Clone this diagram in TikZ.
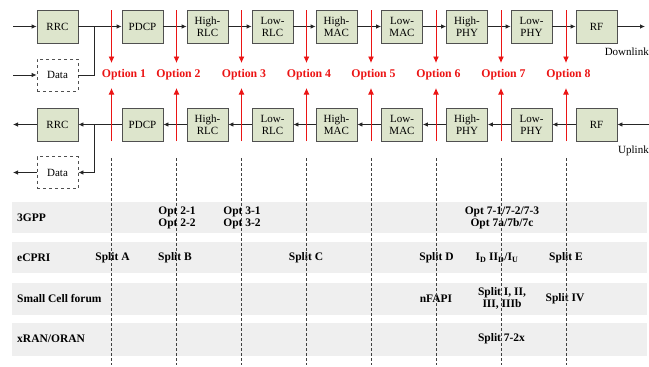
\documentclass[tikz,border=0pt]{standalone}
\usepackage{fontspec}
\setmainfont{Liberation Serif}
\usetikzlibrary{arrows.meta}
\definecolor{boxfill}{RGB}{221,229,204}
\definecolor{boxline}{RGB}{80,80,80}
\definecolor{band}{RGB}{239,239,239}
\definecolor{optred}{RGB}{235,20,20}
\tikzset{
  blk/.style={draw=boxline,fill=boxfill,line width=0.8pt,minimum width=41pt,minimum height=33pt,inner sep=0pt,align=center,font=\fontsize{11}{12}\selectfont},
  databox/.style={draw=boxline,dashed,line width=0.8pt,minimum width=41pt,minimum height=32pt,inner sep=0pt,font=\fontsize{11}{12}\selectfont},
  conn/.style={draw=black!85,line width=0.8pt,-{Latex[length=5pt,width=4.5pt]}},
  plain/.style={draw=black!85,line width=0.8pt},
  redarr/.style={draw=optred,line width=0.9pt,-{Latex[length=6.5pt,width=6pt]}},
  optlab/.style={text=optred,font=\bfseries\fontsize{11.8}{12}\selectfont,inner sep=0pt},
  dashv/.style={draw=black!75,line width=0.7pt,dash pattern=on 3pt off 2pt},
  bandbox/.style={fill=band,draw=none},
  rowlab/.style={anchor=west,font=\bfseries\fontsize{11.5}{12}\selectfont,inner sep=0pt},
  cell/.style={align=center,font=\bfseries\fontsize{11.5}{12}\selectfont,inner sep=0pt},
  sidelab/.style={anchor=east,font=\fontsize{11}{12}\selectfont,inner sep=0pt}
}
\begin{document}
\begin{tikzpicture}[x=1pt,y=-1pt]
\useasboundingbox (0,0) rectangle (649,367);
% bands
\path[bandbox] (12,202) rectangle (647,233);
\path[bandbox] (12,242) rectangle (647,273);
\path[bandbox] (12,283) rectangle (647,315);
\path[bandbox] (12,323) rectangle (647,356);
% top row
\node[blk] (tRRC) at (57.5,26.5) {RRC};
\node[blk] (tPDCP) at (142.5,26.5) {PDCP};
\node[blk] (tHRLC) at (207.5,26.5) {High-\\RLC};
\node[blk] (tLRLC) at (272.5,26.5) {Low-\\RLC};
\node[blk] (tHMAC) at (336.5,26.5) {High-\\MAC};
\node[blk] (tLMAC) at (402,26.5) {Low-\\MAC};
\node[blk] (tHPHY) at (467,26.5) {High-\\PHY};
\node[blk] (tLPHY) at (531.5,26.5) {Low-\\PHY};
\node[blk] (tRF) at (596.5,26.5) {RF};
\node[databox] (tData) at (57.5,75) {Data};
% bottom row
\node[blk] (bRRC) at (57.5,124.5) {RRC};
\node[blk] (bPDCP) at (142.5,124.5) {PDCP};
\node[blk] (bHRLC) at (207.5,124.5) {High-\\RLC};
\node[blk] (bLRLC) at (272.5,124.5) {Low-\\RLC};
\node[blk] (bHMAC) at (336.5,124.5) {High-\\MAC};
\node[blk] (bLMAC) at (402,124.5) {Low-\\MAC};
\node[blk] (bHPHY) at (467,124.5) {High-\\PHY};
\node[blk] (bLPHY) at (531.5,124.5) {Low-\\PHY};
\node[blk] (bRF) at (596.5,124.5) {RF};
\node[databox] (bData) at (57.5,172.5) {Data};
% side labels
\node[sidelab] (dl) at (649,52) {Downlink};
\node[sidelab] (ul) at (649,151) {Uplink};
% coordinates
\coordinate (tin) at (13,26.5);
\coordinate (tdin) at (13,75);
\coordinate (tj) at (94,26.5);
\coordinate (tout) at (645,26.5);
\coordinate (bin) at (649,124.5);
\coordinate (bj) at (94,124.5);
\coordinate (bout) at (13,124.5);
\coordinate (bdout) at (13,172.5);
% top connectors
\draw[conn] (tin) -- (tRRC.west);
\draw[conn] (tdin) -- (tData.west);
\draw[plain] (tRRC.east) -- (tj);
\draw[plain] (tData.east) -| (tj);
\draw[conn] (tj) -- (tPDCP.west);
\draw[conn] (tPDCP) -- (tHRLC);
\draw[conn] (tHRLC) -- (tLRLC);
\draw[conn] (tLRLC) -- (tHMAC);
\draw[conn] (tHMAC) -- (tLMAC);
\draw[conn] (tLMAC) -- (tHPHY);
\draw[conn] (tHPHY) -- (tLPHY);
\draw[conn] (tLPHY) -- (tRF);
\draw[conn] (tRF.east) -- (tout);
% bottom connectors
\draw[conn] (bin) -- (bRF.east);
\draw[conn] (bRF) -- (bLPHY);
\draw[conn] (bLPHY) -- (bHPHY);
\draw[conn] (bHPHY) -- (bLMAC);
\draw[conn] (bLMAC) -- (bHMAC);
\draw[conn] (bHMAC) -- (bLRLC);
\draw[conn] (bLRLC) -- (bHRLC);
\draw[conn] (bHRLC) -- (bPDCP);
\draw[plain] (bPDCP.west) -- (bj);
\draw[conn] (bj) -- (bRRC.east);
\draw[conn] (bj) |- (bData.east);
\draw[conn] (bRRC.west) -- (bout);
\draw[conn] (bData.west) -- (bdout);
% options
\foreach \i/\x/\lx in {1/111.5/124,2/176.5/178.5,3/241.5/244,4/306.5/309,5/371/373.5,6/436/438.5,7/501/503.5,8/566/568.5}{
  \coordinate (ot\i) at (\x,10);
  \coordinate (od\i) at (\x,63);
  \coordinate (ob\i) at (\x,141);
  \coordinate (ou\i) at (\x,88);
  \coordinate (vs\i) at (\x,158);
  \coordinate (ve\i) at (\x,365);
  \draw[redarr] (ot\i) -- (od\i);
  \draw[redarr] (ob\i) -- (ou\i);
  \node[optlab] (opt\i) at (\lx,75) {Option \i};
}
% table labels
\node[rowlab] (r1) at (17,218) {3GPP};
\node[rowlab] (r2) at (17,258) {eCPRI};
\node[rowlab] (r3) at (17,299) {Small Cell forum};
\node[rowlab] (r4) at (17,339) {xRAN/ORAN};
\node[cell] (c12) at (177,217.5) {Opt 2-1\\Opt 2-2};
\node[cell] (c13) at (242,217.5) {Opt 3-1\\Opt 3-2};
\node[cell] (c17) at (502,217.5) {Opt 7-1/7-2/7-3\\Opt 7a/7b/7c};
\node[cell] (c2a) at (112.5,258) {Split A};
\node[cell] (c2b) at (175,258) {Split B};
\node[cell] (c2c) at (306,258) {Split C};
\node[cell] (c2d) at (436.5,258) {Split D};
\node[cell] (c2i) at (497,258) {I\textsubscript{D} II\textsubscript{D}/I\textsubscript{U}};
\node[cell] (c2e) at (566,258) {Split E};
\node[cell] (c3n) at (436,298.5) {nFAPI};
\node[cell] (c3s) at (502,298.5) {Split I, II,\\III, IIIb};
\node[cell] (c3e) at (565,298.5) {Split IV};
\node[cell] (c4) at (501.5,339) {Split 7-2x};
% dashed split lines
\foreach \i in {1,...,8}{
  \draw[dashv] (vs\i) -- (ve\i);
}
\end{tikzpicture}
\end{document}
